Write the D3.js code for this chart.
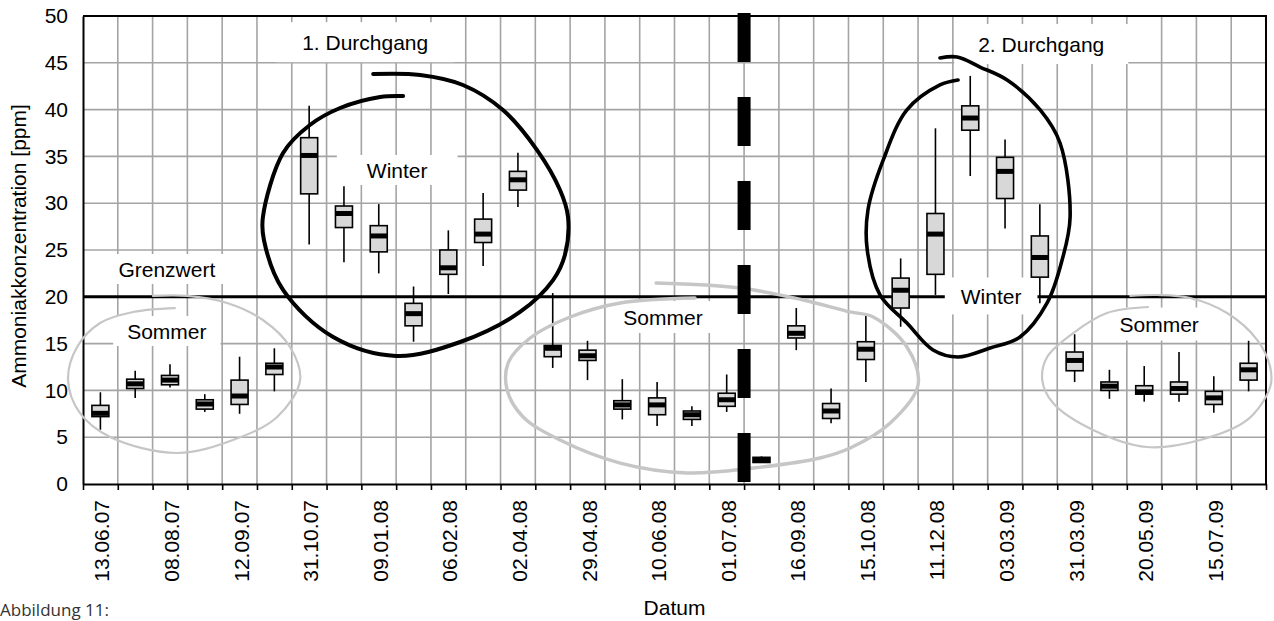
<!DOCTYPE html>
<html>
<head>
<meta charset="utf-8">
<script src="https://cdn.jsdelivr.net/npm/d3@7"></script>
<style>
    body { margin: 0; background: #fff; }
    svg { display: block; font-family: "Liberation Sans", Arial, sans-serif; }
</style>
</head>
<body>
<div id="chart"></div>
<script>

// sampling dates, only every second one is printed on the axis
let dateLabels = [
    "13.06.07", "", "08.08.07", "", "12.09.07", "", "31.10.07", "",
    "09.01.08", "", "06.02.08", "", "02.04.08", "", "29.04.08", "",
    "10.06.08", "", "01.07.08", "", "16.09.08", "", "15.10.08", "",
    "11.12.08", "", "03.03.09", "", "31.03.09", "", "20.05.09", "",
    "15.07.09", ""
];

// box plot values per date [ppm]
let whiskerLow  = [5.8, 9.2, 10.3, 7.7, 7.5, 9.9, 25.6, 23.7, 22.5, 15.2, 20.3, 23.3, 29.6, 12.4, 11.1, 6.9, 6.2,
                   6.2, 7.7, 2.3, 14.3, 6.5, 10.9, 16.8, 20.2, 32.9, 27.3, 19.3, 10.9, 9.1, 8.8, 8.8, 7.6, 9.9];
let quart1      = [7.2, 10.2, 10.6, 8.0, 8.5, 11.7, 31.0, 27.4, 24.8, 16.9, 22.4, 25.8, 31.4, 13.6, 13.2, 8.0, 7.4,
                   6.9, 8.3, 2.3, 15.6, 7.0, 13.3, 18.8, 22.4, 37.8, 30.5, 22.1, 12.1, 10.0, 9.6, 9.6, 8.5, 11.1];
let median      = [7.55, 10.7, 11.1, 8.55, 9.4, 12.5, 35.1, 28.9, 26.5, 18.2, 23.1, 26.7, 32.5, 14.5, 13.7, 8.45, 8.45,
                   7.4, 9.0, 2.55, 16.1, 7.8, 14.4, 20.7, 26.7, 39.1, 33.4, 24.2, 13.2, 10.45, 9.85, 10.2, 9.2, 12.2];
let quart3      = [8.4, 11.2, 11.6, 9.0, 11.1, 12.9, 37.0, 29.7, 27.6, 19.3, 25.0, 28.3, 33.4, 14.8, 14.3, 8.9, 9.2,
                   7.8, 9.7, 2.85, 16.9, 8.6, 15.2, 22.0, 28.9, 40.4, 34.9, 26.5, 14.1, 10.9, 10.5, 10.9, 9.9, 12.9];
let whiskerHigh = [9.8, 12.1, 12.8, 9.6, 13.6, 14.5, 40.4, 31.8, 29.9, 21.1, 27.1, 31.1, 35.4, 20.4, 15.3, 11.2, 10.9,
                   8.3, 11.7, 2.95, 18.8, 10.2, 18.1, 24.1, 38.0, 43.6, 36.8, 29.9, 16.0, 12.2, 12.6, 14.1, 11.5, 15.3];

let yTicks = [0, 5, 10, 15, 20, 25, 30, 35, 40, 45, 50];
let limitValue = 20;          // Grenzwert
let passSplit = 19;           // boundary between 1. and 2. Durchgang (category index)

// annotations: [category position, value]
let labels = [
    {text: "1. Durchgang", cx: 8.11, cy: 47.2, padX: 26, h: 40},
    {text: "Winter", cx: 9.03, cy: 33.55, padX: 30, h: 30},
    {text: "Grenzwert", cx: 2.41, cy: 22.97, padX: 18, h: 30},
    {text: "Sommer", cx: 2.41, cy: 16.35, padX: 14, h: 30},
    {text: "Sommer", cx: 16.67, cy: 17.84, padX: 12, h: 32},
    {text: "Winter", cx: 26.1, cy: 20.09, padX: 16, h: 37},
    {text: "2. Durchgang", cx: 27.54, cy: 47.0, padX: 24, h: 40},
    {text: "Sommer", cx: 30.93, cy: 17.09, padX: 6, h: 33}
];

let winter1 = [[9.20, 41.45], [8.54, 41.35], [7.39, 40.17], [6.52, 38.35], [5.75, 35.36], [5.17, 28.5], [5.20, 26.07],
               [5.75, 20.73], [7.19, 15.7], [9.00, 13.68], [10.84, 15.17], [12.56, 18.38], [13.51, 21.79], [13.85, 24.47],
               [13.94, 28.53], [13.71, 31.41], [13.05, 35.68], [12.07, 39.96], [10.92, 42.63], [9.69, 43.70], [8.34, 43.80]];
let winter2 = [[25.15, 43.16], [24.63, 42.63], [23.68, 39.96], [23.0, 34.62], [22.56, 29.27], [22.54, 25.0], [22.91, 20.19],
               [23.68, 17.2], [24.43, 14.32], [25.15, 13.57], [26.07, 14.53], [26.93, 15.7], [27.71, 19.34], [28.14, 23.93],
               [28.37, 28.53], [28.08, 36.43], [27.51, 39.96], [26.56, 43.16], [25.78, 44.55], [25.12, 45.62], [24.63, 45.51]];
let summer1 = [[2.64, 18.80], [1.44, 18.38], [0.49, 17.20], [-0.17, 14.64], [-0.43, 11.11], [-0.09, 7.59], [0.78, 5.02],
               [2.70, 3.31], [4.31, 4.70], [5.58, 7.16], [6.24, 11.11], [5.95, 14.64], [5.17, 17.52], [4.14, 19.34],
               [2.99, 20.09], [2.01, 20.09]];
let summer2 = [[17.59, 19.87], [15.44, 19.34], [14.0, 17.84], [12.85, 15.6], [12.22, 12.93], [12.19, 10.04], [12.65, 7.16],
               [13.71, 4.70], [15.44, 2.24], [17.36, 1.18], [19.26, 1.71], [21.18, 2.78], [22.05, 3.85], [23.2, 6.52],
               [24.0, 10.58], [23.68, 14.64], [22.71, 17.84], [22.05, 18.38], [20.70, 19.66], [18.88, 20.94], [16.47, 21.47]];
let summer3 = [[30.61, 18.91], [29.43, 18.27], [28.46, 16.13], [27.71, 13.57], [27.57, 11.11], [27.88, 8.65], [29.03, 5.77],
               [30.58, 3.95], [32.11, 4.70], [33.46, 6.84], [34.12, 10.36], [34.12, 12.5], [33.75, 15.38], [32.88, 18.27],
               [31.82, 19.87], [30.87, 20.19], [30.1, 20.09]];


function svgTranslate(x, y) {
    return `translate(${x},${y})`;
}

let margin = {top: 16, right: 8, bottom: 137, left: 83},
    width = 1274 - margin.left - margin.right,
    height = 621 - margin.top - margin.bottom;

let root = d3.select("#chart")
    .append("svg")
        .attr("width", 1274)
        .attr("height", 621);

let svg = root.append("g")
    .attr("transform", svgTranslate(margin.left, margin.top));

let x = d3.scaleLinear()
    .domain([0, dateLabels.length])
    .range([0, width]);

let y = d3.scaleLinear()
    .domain([0, 50])
    .range([height, 0]);

let gridColor = "#a4a4a4";

// grid
svg.append("g")
    .selectAll("line")
    .data(d3.range(1, dateLabels.length))
    .join("line")
        .attr("x1", d => x(d)).attr("x2", d => x(d))
        .attr("y1", 0).attr("y2", height)
        .attr("stroke", gridColor)
        .attr("stroke-width", 1.6);

svg.append("g")
    .selectAll("line")
    .data(yTicks.slice(1, -1))
    .join("line")
        .attr("x1", 0).attr("x2", width)
        .attr("y1", d => y(d)).attr("y2", d => y(d))
        .attr("stroke", gridColor)
        .attr("stroke-width", 1.6);

// frame top + right
svg.append("path")
    .attr("d", `M0,${y(50)}H${width}V${height}`)
    .attr("fill", "none")
    .attr("stroke", "#000")
    .attr("stroke-width", 2);

// axes
let xAxis = svg.append("g")
    .attr("transform", svgTranslate(0, height))
    .call(d3.axisBottom(x).tickValues(d3.range(dateLabels.length + 1)).tickSize(6).tickSizeOuter(0).tickFormat(""));
xAxis.select(".domain").attr("stroke-width", 2);
xAxis.selectAll(".tick line").attr("stroke-width", 1.6);

let yAxis = svg.append("g")
    .call(d3.axisLeft(y).tickValues(yTicks).tickSize(0).tickPadding(15));
yAxis.select(".domain").attr("stroke-width", 2);
yAxis.selectAll("text")
    .attr("font-size", 21)
    .attr("font-family", "Liberation Sans, Arial, sans-serif")
    .attr("fill", "#000");

// date labels
svg.append("g")
    .selectAll("text")
    .data(dateLabels.map((d, i) => ({d, i})).filter(e => e.d !== ""))
    .join("text")
        .attr("transform", e => svgTranslate(x(e.i + 0.5) + 9, height + 16) + " rotate(-90)")
        .attr("text-anchor", "end")
        .attr("font-size", 21)
        .text(e => e.d);

// axis titles
root.append("text")
    .attr("transform", svgTranslate(26, 246) + " rotate(-90)")
    .attr("text-anchor", "middle")
    .attr("font-size", 21)
    .text("Ammoniakkonzentration [ppm]");

root.append("text")
    .attr("x", margin.left + width / 2)
    .attr("y", 615)
    .attr("text-anchor", "middle")
    .attr("font-size", 21)
    .text("Datum");

root.append("text")
    .attr("x", 0)
    .attr("y", 616)
    .attr("font-family", "Open Sans, sans-serif")
    .attr("font-size", 17)
    .attr("fill", "#333")
    .text("Abbildung 11:");

// Grenzwert
svg.append("line")
    .attr("x1", 0).attr("x2", width)
    .attr("y1", y(limitValue)).attr("y2", y(limitValue))
    .attr("stroke", "#000")
    .attr("stroke-width", 3);

// annotation labels on white boxes
let lab = svg.append("g")
    .selectAll("g")
    .data(labels)
    .join("g")
        .attr("transform", d => svgTranslate(x(d.cx), y(d.cy)));

lab.append("text")
    .attr("text-anchor", "middle")
    .attr("dy", "0.36em")
    .attr("font-size", 21)
    .text(d => d.text);

lab.each(function (d) {
    let g = d3.select(this);
    let bb = g.select("text").node().getBBox();
    g.insert("rect", "text")
        .attr("x", bb.x - d.padX)
        .attr("y", -d.h / 2)
        .attr("width", bb.width + 2 * d.padX)
        .attr("height", d.h)
        .attr("fill", "#fff");
});

// box plots
let boxW = 17;
let boxes = d3.range(dateLabels.length).map(i => ({
    i, lo: whiskerLow[i], q1: quart1[i], med: median[i], q3: quart3[i], hi: whiskerHigh[i]
}));

let bp = svg.append("g")
    .selectAll("g")
    .data(boxes)
    .join("g")
        .attr("transform", d => svgTranslate(x(d.i + 0.5), 0));

bp.append("line")
    .attr("y1", d => y(d.lo))
    .attr("y2", d => y(d.hi))
    .attr("stroke", "#000")
    .attr("stroke-width", 1.6);

bp.append("rect")
    .attr("x", -boxW / 2)
    .attr("y", d => y(d.q3))
    .attr("width", boxW)
    .attr("height", d => y(d.q1) - y(d.q3))
    .attr("fill", "#d8d8d8")
    .attr("stroke", "#000")
    .attr("stroke-width", 1.6);

bp.append("rect")
    .attr("x", -boxW / 2)
    .attr("y", d => y(d.med) - 2.5)
    .attr("width", boxW)
    .attr("height", 5)
    .attr("fill", "#000");

// hand drawn ellipses
let curve = d3.line()
    .x(d => x(d[0]))
    .y(d => y(d[1]))
    .curve(d3.curveCatmullRom.alpha(0.5));

let rings = [
    {pts: summer1, color: "#c6c6c6", w: 2.2},
    {pts: summer2, color: "#c6c6c6", w: 3.4},
    {pts: summer3, color: "#c6c6c6", w: 2.2},
    {pts: winter1, color: "#000", w: 4},
    {pts: winter2, color: "#000", w: 3.6}
];

svg.append("g")
    .selectAll("path")
    .data(rings)
    .join("path")
        .attr("d", d => curve(d.pts))
        .attr("fill", "none")
        .attr("stroke", d => d.color)
        .attr("stroke-width", d => d.w)
        .attr("stroke-linecap", "round");

// separation of the two passes
svg.append("line")
    .attr("x1", x(passSplit)).attr("x2", x(passSplit))
    .attr("y1", -3).attr("y2", height)
    .attr("stroke", "#000")
    .attr("stroke-width", 13)
    .attr("stroke-dasharray", "49,35");

</script>
</body>
</html>
